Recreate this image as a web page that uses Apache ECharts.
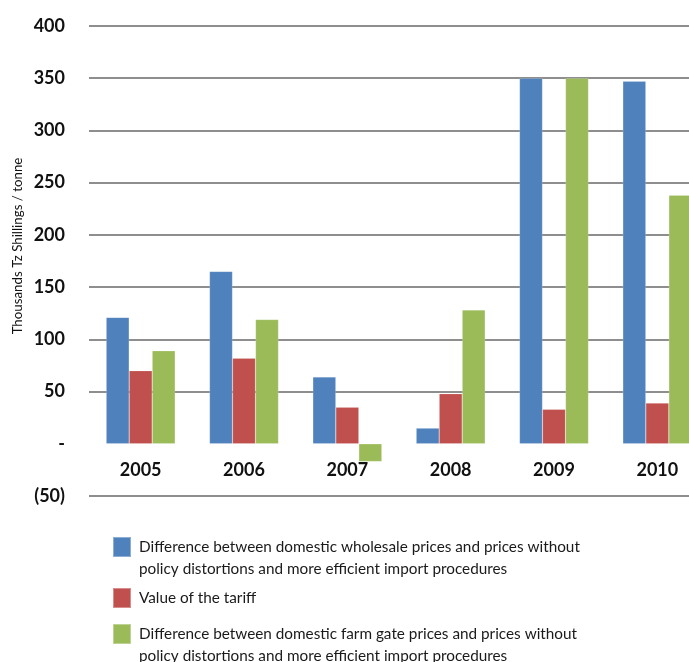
<!DOCTYPE html>
<html><head><meta charset="utf-8">
<script src="https://cdn.jsdelivr.net/npm/echarts@6/dist/echarts.min.js"></script>
<style>html,body{margin:0;padding:0;background:#fff;}#c{width:689px;height:662px;}</style>
</head><body><div id="c"></div>
<script>
const years = ['2005','2006','2007','2008','2009','2010'];
const wholesaleDiff = [121, 165, 64, 15, 350, 347];
const tariffValue = [70, 82, 35, 48, 33, 39];
const farmGateDiff = [89, 119, -17, 128, 350, 238];
const seriesNames = [
  'Difference between domestic wholesale prices and prices without policy distortions and more efficient import procedures',
  'Value of the tariff',
  'Difference between domestic farm gate prices and prices without policy distortions and more efficient import procedures'
];
const yTicks = {min: -50, max: 400, interval: 50};
const yAxisTitle = 'Thousands Tz Shillings / tonne';

const colors = ['#4F81BD', '#C0504D', '#9BBB59'];
const chart = echarts.init(document.getElementById('c'));
const gridColors = [];
for (let v = yTicks.min; v <= yTicks.max; v += yTicks.interval) gridColors.push(v === 0 ? 'rgba(0,0,0,0)' : '#8e8e8e');

function wrapName(n) {
  const i = n.indexOf(' policy');
  return i > 0 ? '\n' + n.slice(0, i) + '\n' + n.slice(i + 1) : n;
}
function legendFor(idx, top) {
  return {
    show: true, data: [seriesNames[idx]], left: 112, top: top, padding: 0,
    itemWidth: 18, itemHeight: 20, itemGap: 0, icon: 'rect', selectedMode: false,
    formatter: wrapName,
    textStyle: {fontFamily: 'Lato', fontSize: 15.3, color: '#1a1a1a', lineHeight: 22, padding: [0, 0, 0, 3]}
  };
}
const gridTop = 26, gridHeight = 470;
const zeroOffset = -gridHeight * (0 - yTicks.min) / (yTicks.max - yTicks.min);

chart.setOption({
  animation: false,
  color: colors,
  grid: {left: 89, top: gridTop, width: 620, height: gridHeight, containLabel: false, outerBoundsMode: 'none'},
  legend: [legendFor(0, 514), legendFor(1, 587), legendFor(2, 601)],
  xAxis: {
    type: 'category', data: years, offset: zeroOffset,
    axisLine: {show: false, onZero: false}, axisTick: {show: false},
    axisLabel: {fontFamily: 'Lato', fontWeight: 'bold', fontSize: 18, color: '#111', margin: 17}
  },
  yAxis: {
    type: 'value', min: yTicks.min, max: yTicks.max, interval: yTicks.interval,
    axisLine: {show: false}, axisTick: {show: false},
    splitLine: {lineStyle: {color: gridColors, width: 2}},
    axisLabel: {
      fontFamily: 'Lato', fontWeight: 'bold', fontSize: 18, color: '#111', margin: 24,
      formatter: v => v === 0 ? '-' : (v < 0 ? '(' + Math.abs(v) + ')' : String(v))
    }
  },
  graphic: [{
    type: 'text', x: 17, y: 246, rotation: Math.PI / 2, scaleX: 0.95,
    style: {text: yAxisTitle, fontFamily: 'Lato', fontSize: 14, fill: '#111',
      align: 'center', verticalAlign: 'middle'}
  }],
  series: [
    {name: seriesNames[0], type: 'bar', data: wholesaleDiff, barWidth: 23, barGap: '0%', itemStyle: {borderColor: 'rgba(255,255,255,0.35)', borderWidth: 0.5}},
    {name: seriesNames[1], type: 'bar', data: tariffValue, barWidth: 23, barGap: '0%', itemStyle: {borderColor: 'rgba(255,255,255,0.35)', borderWidth: 0.5}},
    {name: seriesNames[2], type: 'bar', data: farmGateDiff, barWidth: 23, barGap: '0%', itemStyle: {borderColor: 'rgba(255,255,255,0.35)', borderWidth: 0.5}}
  ]
});
</script></body></html>
